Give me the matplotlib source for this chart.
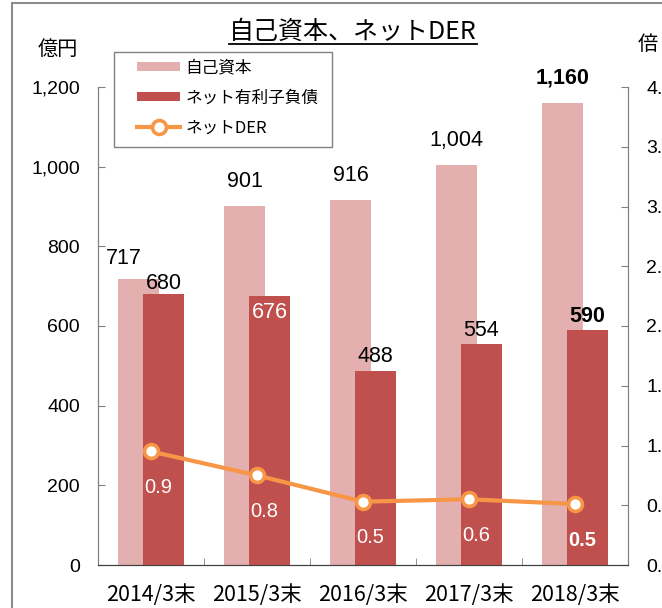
import matplotlib
matplotlib.use("Agg")
import matplotlib.pyplot as plt
from matplotlib.patches import Rectangle
from matplotlib.lines import Line2D
from matplotlib.ticker import FuncFormatter, MultipleLocator
import numpy as np

# data
periods = ["2014/3末", "2015/3末", "2016/3末", "2017/3末", "2018/3末"]
equity = [717, 901, 916, 1004, 1160]
net_debt = [680, 676, 488, 554, 590]
net_der = [0.95, 0.75, 0.53, 0.55, 0.51]
der_labels = ["0.9", "0.8", "0.5", "0.6", "0.5"]
series_names = ["自己資本", "ネット有利子負債", "ネットDER"]

PINK = "#E3AFAF"
RED = "#C0504D"
ORANGE = "#F79646"
NUM_FONT = ["Liberation Sans", "DejaVu Sans"]
JP_FONT = ["Noto Sans CJK JP", "DejaVu Sans"]
TICK_FONT = ["Liberation Sans Narrow", "Noto Sans CJK JP", "DejaVu Sans"]

plt.rcParams["font.family"] = JP_FONT

fig = plt.figure(figsize=(6.62, 6.08), dpi=100)
W, H = 662.0, 608.0
ax = fig.add_axes([98 / W, 1 - 565 / H, 530 / W, 478 / H])
ax2 = ax.twinx()

x = np.arange(len(periods))
bw = 0.387
off = 0.117
b1 = ax.bar(x - off, equity, bw, color=PINK, label=series_names[0], zorder=2)
b2 = ax.bar(x + off, net_debt, bw, color=RED, label=series_names[1], zorder=3)

# value labels on bars
last = len(periods) - 1
for i, v in enumerate(equity):
    dx = -11 if i == 0 else 0
    dy = 15 if i == 0 else 18
    ax.annotate(f"{v:,}", (x[i] - off, v), xytext=(dx, dy), textcoords="offset points",
                ha="center", va="center", fontsize=15.5, family=NUM_FONT,
                fontweight="bold" if i == last else "normal", zorder=5)
for i, v in enumerate(net_debt):
    if i == 1:
        dy, col = -12, "white"
    elif i == 0:
        dy, col = 8, "black"
    else:
        dy, col = 10, "black"
    ax.annotate(f"{v:,}", (x[i] + off, v), xytext=(0, dy), textcoords="offset points",
                ha="center", va="center", fontsize=15.5, family=NUM_FONT, color=col,
                fontweight="bold" if i == last else "normal", zorder=5)

ln, = ax2.plot(x, net_der, color=ORANGE, lw=3, marker="o", ms=10, mfc="white",
               mec=ORANGE, mew=2.6, label=series_names[2], zorder=4)
for i, v in enumerate(net_der):
    ax2.annotate(der_labels[i], (x[i], v), xytext=(5, -26), textcoords="offset points",
                 ha="center", va="center", fontsize=14.5, family=NUM_FONT, color="white",
                 fontweight="bold" if i == last else "normal")

# axes
ax.set_xlim(-0.5, len(periods) - 0.5)
ax.set_ylim(0, 1200)
ax.yaxis.set_major_locator(MultipleLocator(200))
ax.yaxis.set_major_formatter(FuncFormatter(lambda v, p: f"{int(v):,}"))
ax2.set_ylim(0, 4)
ax2.yaxis.set_major_locator(MultipleLocator(0.5))
ax2.yaxis.set_major_formatter(FuncFormatter(lambda v, p: f"{v:.1f}"))

ax.set_xticks(x)
ax.set_xticklabels(periods, family=TICK_FONT, fontsize=15.5)
ax.set_xticks(np.arange(0.5, len(periods) - 1, 1), minor=True)
ax.tick_params(axis="x", which="major", length=0, pad=14)
ax.tick_params(axis="x", which="minor", direction="in", length=5, color="#808080")
ax.tick_params(axis="y", direction="in", length=5, color="#808080", pad=13, labelsize=14)
ax2.tick_params(axis="y", direction="in", length=5, color="#808080", pad=13, labelsize=14)
for lab in ax.get_yticklabels() + ax2.get_yticklabels():
    lab.set_family(NUM_FONT)

for a in (ax, ax2):
    a.spines["top"].set_visible(False)
    a.spines["left"].set_color("#808080")
    a.spines["right"].set_color("#808080")
    a.spines["bottom"].set_color("#404040")
    a.set_facecolor("none")

# legend: entries without frame, frame drawn as a separate box
leg = fig.legend([b1, b2, ln], series_names, loc="upper left",
                 bbox_to_anchor=(137 / W, 1 - 59 / H), borderaxespad=0,
                 fontsize=12, frameon=False, borderpad=0,
                 handlelength=2.6, handleheight=0.45, handletextpad=0.3,
                 labelspacing=0.8)
fig.patches.append(Rectangle((114 / W, 1 - 147 / H), 218 / W, 95 / H,
                             transform=fig.transFigure, fill=False,
                             edgecolor="#808080", lw=1.0))

fig.text(58 / W, 1 - 49 / H, "億円", ha="center", va="center", fontsize=14.5)
fig.text(648 / W, 1 - 44 / H, "倍", ha="center", va="center", fontsize=14.5)
title = fig.text(353 / W, 1 - 32 / H, "自己資本、ネットDER", ha="center", va="center",
                 fontsize=18)

# outer frame
fig.patches.append(Rectangle((12 / W, -0.1), 1.2, 1.1 - 3 / H, transform=fig.transFigure,
                             fill=False, edgecolor="#8c8c8c", lw=1.5))

# underline under the title
fig.canvas.draw()
bb = title.get_window_extent(fig.canvas.get_renderer())
fig.add_artist(Line2D([bb.x0 / W, bb.x1 / W], [1 - 44 / H, 1 - 44 / H],
                      transform=fig.transFigure, color="black", lw=1.3))

fig.savefig("out.png", dpi=100)
